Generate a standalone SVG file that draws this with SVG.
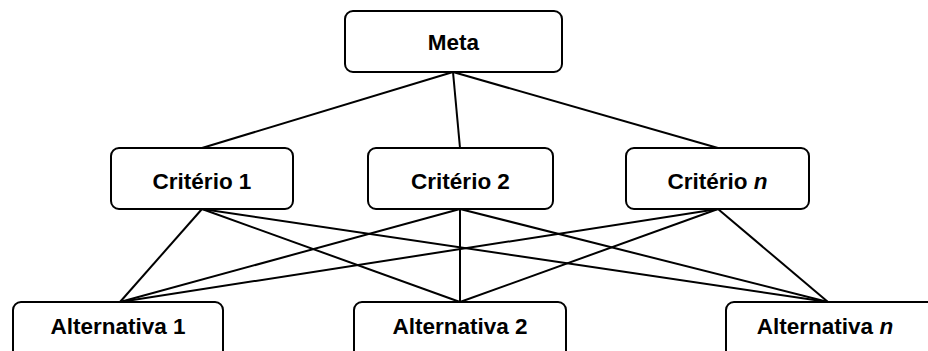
<svg xmlns="http://www.w3.org/2000/svg" width="928" height="351" viewBox="0 0 928 351">
<style>
.box{fill:#fff;stroke:#000;stroke-width:2}
.lbl{font-family:"Liberation Sans",Arial,sans-serif;font-weight:bold;font-size:22.5px;fill:#000;text-anchor:middle}
.ln{stroke:#000;stroke-width:2;fill:none}
</style>
<rect width="928" height="351" fill="#fff"/>
<g id="connectors">
<line class="ln" x1="453" y1="72" x2="202" y2="148"/>
<line class="ln" x1="453" y1="72" x2="460" y2="148"/>
<line class="ln" x1="453" y1="72" x2="718" y2="148"/>
<line class="ln" x1="202" y1="209" x2="120" y2="302"/>
<line class="ln" x1="202" y1="209" x2="460" y2="302"/>
<line class="ln" x1="202" y1="209" x2="828" y2="302"/>
<line class="ln" x1="460" y1="209" x2="120" y2="302"/>
<line class="ln" x1="460" y1="209" x2="460" y2="302"/>
<line class="ln" x1="460" y1="209" x2="828" y2="302"/>
<line class="ln" x1="718" y1="209" x2="120" y2="302"/>
<line class="ln" x1="718" y1="209" x2="460" y2="302"/>
<line class="ln" x1="718" y1="209" x2="828" y2="302"/>
</g>
<g id="meta">
<rect class="box" x="345" y="11" width="217" height="61" rx="8"/>
<text class="lbl" x="453.5" y="50">Meta</text>
</g>
<g id="criterio1">
<rect class="box" x="111" y="148" width="182" height="61" rx="8"/>
<text class="lbl" x="202" y="189">Critério 1</text>
</g>
<g id="criterio2">
<rect class="box" x="368" y="148" width="185" height="61" rx="8"/>
<text class="lbl" x="460.5" y="189">Critério 2</text>
</g>
<g id="criterion">
<rect class="box" x="626" y="148" width="183" height="61" rx="8"/>
<text class="lbl" x="717.5" y="189">Critério <tspan font-style="italic">n</tspan></text>
</g>
<g id="alternativa1">
<rect class="box" x="13" y="302" width="210" height="61" rx="8"/>
<text class="lbl" x="118" y="334">Alternativa 1</text>
</g>
<g id="alternativa2">
<rect class="box" x="354" y="302" width="212" height="61" rx="8"/>
<text class="lbl" x="460" y="334">Alternativa 2</text>
</g>
<g id="alternativan">
<rect class="box" x="726" y="302" width="212" height="61" rx="8"/>
<text class="lbl" x="825" y="334">Alternativa <tspan font-style="italic">n</tspan></text>
</g>
</svg>
